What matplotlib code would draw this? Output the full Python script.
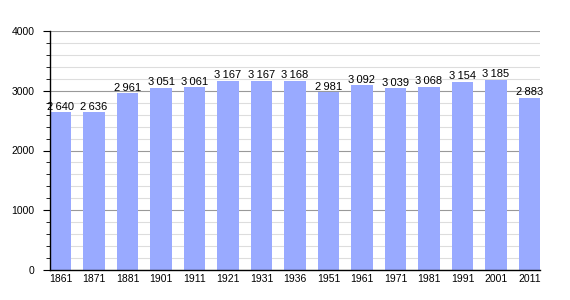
import matplotlib
matplotlib.use("Agg")
import matplotlib.pyplot as plt
from matplotlib.ticker import MultipleLocator

plt.rcParams['font.family'] = ['Liberation Sans', 'DejaVu Sans']

years = ["1861", "1871", "1881", "1901", "1911", "1921", "1931", "1936",
         "1951", "1961", "1971", "1981", "1991", "2001", "2011"]
population = [2640, 2636, 2961, 3051, 3061, 3167, 3167, 3168,
              2981, 3092, 3039, 3068, 3154, 3185, 2883]

fig = plt.figure(figsize=(5.7, 3.0), dpi=100)
ax = fig.add_axes([50/570, 30/300, 490/570, 239/300])

x = list(range(len(years)))
w = 0.63
ax.bar(x, population, width=w, color="#99aaff", zorder=2)

for xi, v in zip(x, population):
    s = f"{v:,}".replace(",", "\u2009")
    ax.text(xi, v + 5, s, ha="center", va="bottom", fontsize=8, color="black", zorder=3)

ax.set_xlim(-w/2, len(years) - 1 + w/2)
ax.set_ylim(0, 4000)
ax.yaxis.set_major_locator(MultipleLocator(1000))
ax.yaxis.set_minor_locator(MultipleLocator(200))
ax.set_xticks(x)
ax.set_xticklabels(years)
ax.tick_params(axis="x", length=0, labelsize=7.5, pad=3)
ax.tick_params(axis="y", which="major", length=5, labelsize=7.5, pad=6)
ax.tick_params(axis="y", which="minor", length=3)

ax.grid(axis="y", which="major", color="#999999", linewidth=0.8, zorder=0)
ax.grid(axis="y", which="minor", color="#dddddd", linewidth=0.8, zorder=0)
ax.set_axisbelow(True)
for side in ("top", "right"):
    ax.spines[side].set_visible(False)
ax.spines["left"].set_linewidth(1.0)
ax.spines["bottom"].set_linewidth(1.0)

fig.savefig("out.png", dpi=100)
